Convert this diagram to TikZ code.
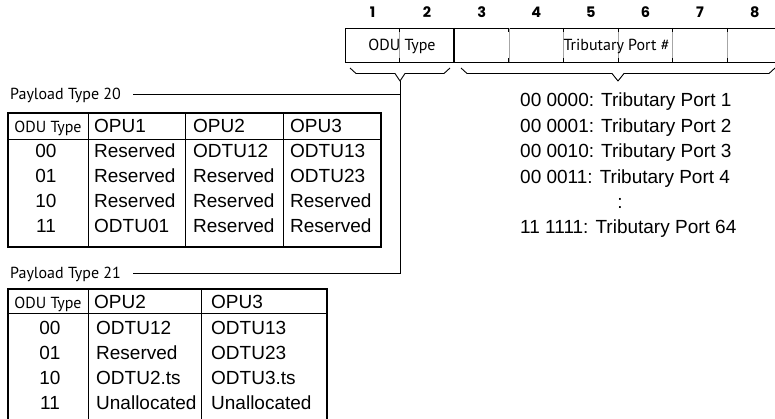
\documentclass[tikz,border=0pt]{standalone}
\usepackage{fontspec}
\setmainfont{Liberation Sans}
\newfontfamily\humfont{PT Sans}
\newfontfamily\digfont{Poppins}
\usetikzlibrary{positioning}

\begin{document}
\begin{tikzpicture}[
    x=1pt, y=-1pt,
    cell/.style={font=\fontsize{19}{21}\selectfont, anchor=base west, inner sep=0pt},
    code/.style={font=\fontsize{19}{21}\selectfont, anchor=base, inner sep=0pt},
    smalllabel/.style={font=\humfont\fontsize{16}{18}\selectfont, inner sep=0pt},
    bytenum/.style={font=\digfont\bfseries\fontsize{14.5}{16}\selectfont, anchor=base, inner sep=0pt},
    frame/.style={line width=1.5pt},
    rule/.style={line width=0.9pt},
    divider/.style={line width=0.6pt, black!35},
    bracket/.style={line width=0.9pt, line join=round},
    link/.style={line width=1pt}
]
\useasboundingbox (0,0) rectangle (775,419);
\clip (0,0) rectangle (775,419);

% ----- Byte numbers -----
\foreach \n in {1,...,8}{
    \node[bytenum] (B\n) at ({372.5+54.6*(\n-1)},17.5) {\n};
}

% ----- Header field -----
\draw[rule] (780,28) -- (345,28) -- (345,62) -- (780,62);
\draw[frame] (454.2,28) -- (454.2,62);
\foreach \k in {1,3,4,5,6,7}{
    \draw[divider] ({345+54.6*\k},28) -- ({345+54.6*\k},62);
    \draw[rule] ({345+54.6*\k},28) -- ({345+54.6*\k},32);
    \draw[rule] ({345+54.6*\k},58) -- ({345+54.6*\k},62);
}
\node[smalllabel, anchor=base] (odufield) at (402,51) {ODU Type};
\node[smalllabel, anchor=base] (tribfield) at (616.5,51) {Tributary Port \#};

% ----- Braces -----
\coordinate (odutip) at (400,81);
\coordinate (tribtip) at (618,81);
\draw[bracket] (350,68) -- (356,73.5) -- (395,73.5) -- (odutip) -- (405,73.5) -- (444,73.5) -- (450,68);
\draw[bracket] (461,68) -- (467,73.5) -- (612,73.5) -- (tribtip) -- (624,73.5) -- (769,73.5) -- (775,68);

% ----- Tributary port list -----
\foreach \txt [count=\k] in {00 0000: Tributary Port 1, 00 0001: Tributary Port 2,
    00 0010: Tributary Port 3, 00 0011: Tributary Port 4}{
    \node[cell] (port\k) at (520,{107+25.4*(\k-1)}) {\txt};
}
\node[code] (portdots) at (620,208.6) {:};
\node[cell] (port64) at (520,234) {11 1111: Tributary Port 64};

% ----- Payload Type 20 -----
\node[smalllabel, anchor=base west] (pt20) at (10,100) {Payload Type 20};
\coordinate (pt20l) at ([xshift=12pt, yshift=5pt]pt20.base east);

\draw[frame] (8,113) rectangle (381,247);
\draw[rule] (8,139) -- (381,139);
\foreach \x in {88,185,283}{
    \draw[rule] (\x,113) -- (\x,247);
}
\node[smalllabel, anchor=base] (hA) at (48,133) {ODU Type};
\node[cell] (hB) at (94,133) {OPU1};
\node[cell] (hC) at (193,133) {OPU2};
\node[cell] (hD) at (290,133) {OPU3};
\foreach \c/\a/\b/\d [count=\r] in {00/Reserved/ODTU12/ODTU13, 01/Reserved/Reserved/ODTU23,
    10/Reserved/Reserved/Reserved, 11/ODTU01/Reserved/Reserved}{
    \node[code] (tA\r) at (46,{133+25*\r}) {\c};
    \node[cell] (tB\r) at (94,{133+25*\r}) {\a};
    \node[cell] (tC\r) at (193,{133+25*\r}) {\b};
    \node[cell] (tD\r) at (290,{133+25*\r}) {\d};
}

% ----- Payload Type 21 -----
\node[smalllabel, anchor=base west] (pt21) at (10,278) {Payload Type 21};
\coordinate (pt21l) at ([xshift=12pt, yshift=5pt]pt21.base east);

\draw[frame] (8,430) -- (8,289) -- (327,289) -- (327,430);
\draw[rule] (8,313) -- (327,313);
\foreach \x in {88,201}{
    \draw[rule] (\x,289) -- (\x,430);
}
\node[smalllabel, anchor=base] (uA) at (48,308) {ODU Type};
\node[cell] (uB) at (94,308) {OPU2};
\node[cell] (uC) at (211,308) {OPU3};
\foreach \c/\a/\b [count=\r] in {00/ODTU12/ODTU13, 01/Reserved/ODTU23,
    10/ODTU2.ts/ODTU3.ts, 11/Unallocated/Unallocated}{
    \node[code] (uA\r) at (50,{309+25*\r}) {\c};
    \node[cell] (uB\r) at (96,{309+25*\r}) {\a};
    \node[cell] (uC\r) at (211,{309+25*\r}) {\b};
}

% ----- Connections -----
\draw[link] (pt20l) -- (pt20l -| odutip) (odutip) -- (odutip |- pt21l) -- (pt21l);

\end{tikzpicture}
\end{document}
